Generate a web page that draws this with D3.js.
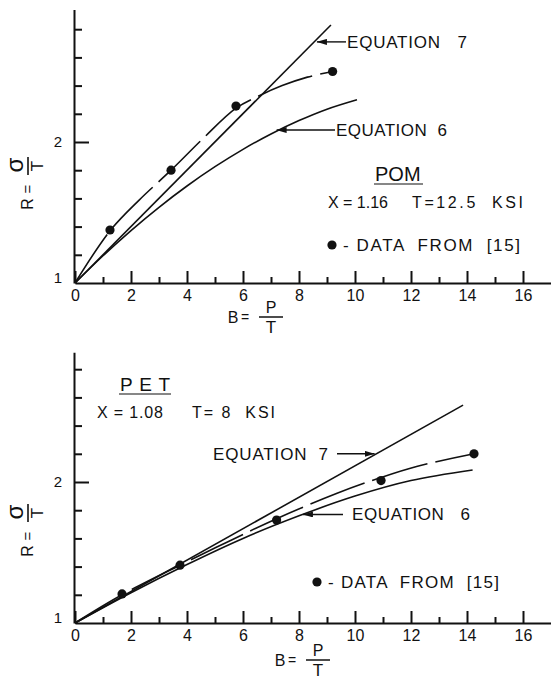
<!DOCTYPE html>
<html lang="en">
<head>
  <meta charset="UTF-8">
  <title>R vs B - POM and PET</title>
  <style>
    body { margin: 0; background: #fff; }
    svg { display: block; }
    text { font-family: "Liberation Sans", Arial, sans-serif; fill: #111; }
    .axis path, .axis line { stroke: #111; stroke-width: 2; }
    .axis text { font-size: 15px; }
    .xax text { font-size: 16px; }
    .curve { fill: none; stroke: #111; stroke-width: 1.6; }
    .lbl { font-size: 17px; white-space: pre; }
  </style>
</head>
<body>
  <svg id="chart" width="551" height="681"></svg>
  <script src="https://d3js.org/d3.v7.min.js"></script>
  <script>
    // tick values
    const xMajorTicks = [0, 2, 4, 6, 8, 10, 12, 14, 16];
    const xMinorTicks = [1, 3, 5, 7, 9, 11, 13, 15];
    const yMajorTicks = [1, 2];
    const yMinorTicks = [1.2, 1.4, 1.6, 1.8, 2.2, 2.4, 2.6, 2.8];

    // POM panel (B, R)
    const pomData = [[1.25, 1.376], [3.43, 1.80], [5.75, 2.255], [9.2, 2.50]];
    const pomEq7 = [[0, 1], [9.14, 2.83]];
    const pomEq6 = [[0, 1], [1, 1.193], [2, 1.372], [3, 1.537], [4, 1.688], [5, 1.825], [6, 1.948], [7, 2.057], [8, 2.152], [9, 2.233], [10.07, 2.30]];
    const pomFit = [[0, 1], [1.25, 1.37], [2.3, 1.59], [3.43, 1.80], [4.6, 2.03], [5.75, 2.24], [6.6, 2.33], [7.4, 2.40], [8.3, 2.46], [9.2, 2.50]];

    // PET panel (B, R)
    const petData = [[1.68, 1.206], [3.75, 1.41], [7.2, 1.73], [10.93, 2.01], [14.25, 2.20]];
    const petEq7 = [[0, 1], [13.86, 2.545]];
    const petEq6 = [[0, 1], [2, 1.215], [4, 1.415], [6, 1.60], [8, 1.76], [10, 1.90], [12, 2.01], [14.2, 2.085]];
    const petFit = [[0, 1], [1.68, 1.20], [3.75, 1.41], [5.5, 1.58], [7.2, 1.74], [9.36, 1.92], [10.9, 2.03], [12.2, 2.11], [14.25, 2.20]];

    const svg = d3.select("#chart");

    svg.append("defs").append("marker")
      .attr("id", "arrow")
      .attr("viewBox", "0 0 10 6")
      .attr("refX", 10).attr("refY", 3)
      .attr("markerWidth", 10).attr("markerHeight", 6)
      .attr("markerUnits", "userSpaceOnUse")
      .attr("orient", "auto")
      .append("path")
      .attr("d", "M0,0L10,3L0,6Z")
      .attr("fill", "#111");

    const x = d3.scaleLinear().domain([0, 17]).range([75, 551]);

    function addText(g, t, px, py, w, size) {
      const el = g.append("text").attr("class", "lbl")
        .attr("x", px).attr("y", py).text(t);
      if (size) el.style("font-size", size + "px");
      if (w) el.attr("textLength", w).attr("lengthAdjust", "spacing");
      return el;
    }

    function drawPanel(p) {
      const g = svg.append("g").attr("transform", `translate(0,${p.dy})`);
      const y = d3.scaleLinear().domain([1, p.yTop]).range([283, 283 - 141 * (p.yTop - 1)]);

      // x axis: minor then major ticks (pointing up)
      g.append("g").attr("class", "axis").attr("transform", `translate(0,${y(1)})`)
        .call(d3.axisBottom(x).tickValues(xMinorTicks).tickSize(-6).tickSizeOuter(0).tickFormat(""));
      g.append("g").attr("class", "axis xax").attr("transform", `translate(0,${y(1)})`)
        .call(d3.axisBottom(x).tickValues(xMajorTicks).tickSize(-12).tickSizeOuter(0).tickPadding(7).tickFormat(d3.format("d")))
        .call(a => a.select(".domain").remove());

      // y axis: ticks pointing right
      g.append("g").attr("class", "axis").attr("transform", `translate(${x(0) - 1},0)`)
        .call(d3.axisLeft(y).tickValues(yMinorTicks).tickSize(-8).tickSizeOuter(0).tickFormat(""));
      g.append("g").attr("class", "axis").attr("transform", `translate(${x(0) - 1},0)`)
        .call(d3.axisLeft(y).tickValues(yMajorTicks).tickSize(-15).tickSizeOuter(0).tickPadding(12).tickFormat(d3.format("d")))
        .call(a => a.select(".domain").remove())
        .call(a => a.selectAll(".tick").filter(d => d === 1).select("line").remove())
        .call(a => a.selectAll(".tick").filter(d => d === 1).select("text").attr("dy", "-0.05em"));

      const line = d3.line().x(d => x(d[0])).y(d => y(d[1])).curve(d3.curveCatmullRom.alpha(0.5));

      g.append("path").attr("class", "curve").attr("d", line(p.eq7));
      g.append("path").attr("class", "curve").attr("d", line(p.eq6));
      g.append("path").attr("class", "curve").attr("stroke-dasharray", "58,8").attr("d", line(p.fit));

      g.selectAll("circle.pt").data(p.data).join("circle")
        .attr("class", "pt")
        .attr("cx", d => x(d[0])).attr("cy", d => y(d[1])).attr("r", 4.6)
        .attr("fill", "#111");

      // equation labels with arrows
      p.labels.forEach(l => {
        g.append("line")
          .attr("x1", l.tail).attr("y1", y(l.at[1]))
          .attr("x2", x(l.at[0])).attr("y2", y(l.at[1]))
          .attr("stroke", "#111").attr("stroke-width", 1.4)
          .attr("marker-end", "url(#arrow)");
        addText(g, l.text, l.tx, y(l.at[1]) + 6, l.w);
      });

      // material block
      addText(g, p.mat.name, p.mat.x, p.mat.y, p.mat.fit ? p.mat.w : null, p.mat.size);
      g.append("line").attr("x1", p.mat.x - 1).attr("x2", p.mat.x + p.mat.w + 1)
        .attr("y1", p.mat.y + 3).attr("y2", p.mat.y + 3)
        .attr("stroke", "#111").attr("stroke-width", 1.2);
      addText(g, p.props.t1, p.props.x1, p.props.y, p.props.w1, 16);
      addText(g, p.props.t2, p.props.x2, p.props.y, p.props.w2, 16);

      // data legend
      g.append("circle").attr("cx", p.leg.x).attr("cy", p.leg.y - 6).attr("r", 4.6).attr("fill", "#111");
      addText(g, "- DATA  FROM  [15]", p.leg.tx, p.leg.y, p.leg.w);

      // y title R = sigma / T (rotated)
      const yt = g.append("g").attr("transform", `translate(28,${p.yTitle}) rotate(-90)`);
      yt.append("text").attr("x", -38).attr("y", 5).attr("text-anchor", "middle").style("font-size", "16px").text("R");
      yt.append("text").attr("x", -23).attr("y", 5).attr("text-anchor", "middle").style("font-size", "15px").text("=");
      yt.append("line").attr("x1", -9).attr("x2", 9).attr("y1", 0).attr("y2", 0).attr("stroke", "#111").attr("stroke-width", 1.6);
      yt.append("text").attr("x", 1).attr("y", -5).attr("text-anchor", "middle").style("font-size", "24px").text("σ");
      yt.append("text").attr("x", 0).attr("y", 15).attr("text-anchor", "middle").style("font-size", "17px").text("T");

      // x title B = P / T
      const xt = g.append("g").attr("transform", `translate(${p.xTitle[0]},${p.xTitle[1]})`);
      xt.append("text").attr("x", -38).attr("y", 6).attr("text-anchor", "middle").style("font-size", "16px").text("B");
      xt.append("text").attr("x", -26).attr("y", 5).attr("text-anchor", "middle").style("font-size", "14px").text("=");
      xt.append("line").attr("x1", -12).attr("x2", 12).attr("y1", 0).attr("y2", 0).attr("stroke", "#111").attr("stroke-width", 1.5);
      xt.append("text").attr("x", 0).attr("y", -4).attr("text-anchor", "middle").style("font-size", "16px").text("P");
      xt.append("text").attr("x", 0).attr("y", 16).attr("text-anchor", "middle").style("font-size", "17px").text("T");
    }

    drawPanel({
      dy: 0, yTop: 2.94,
      data: pomData, eq7: pomEq7, eq6: pomEq6, fit: pomFit,
      labels: [
        { text: "EQUATION   7", at: [8.64, 2.71], tail: 346, tx: 347, w: 120 },
        { text: "EQUATION  6", at: [7.2, 2.085], tail: 335, tx: 336, w: 111 }
      ],
      mat: { name: "POM", x: 375, y: 181, w: 47, size: 20, fit: false },
      props: { t1: "X = 1.16", x1: 328, w1: 60, t2: "T=12.5  KSI", x2: 412, w2: 111, y: 208 },
      leg: { x: 332, y: 251, tx: 343, w: 177 },
      yTitle: 166,
      xTitle: [271, 317]
    });

    drawPanel({
      dy: 340, yTop: 2.92,
      data: petData, eq7: petEq7, eq6: petEq6, fit: petFit,
      labels: [
        { text: "EQUATION  7", at: [10.7, 2.20], tail: 337, tx: 213, w: 115 },
        { text: "EQUATION   6", at: [8.14, 1.77], tail: 343, tx: 352, w: 118 }
      ],
      mat: { name: "PET", x: 120, y: 51, w: 50, size: 19, fit: true },
      props: { t1: "X = 1.08", x1: 97, w1: 66, t2: "T= 8  KSI", x2: 192, w2: 83, y: 78 },
      leg: { x: 317, y: 248, tx: 328, w: 171 },
      yTitle: 173,
      xTitle: [318, 320]
    });
  </script>
</body>
</html>
